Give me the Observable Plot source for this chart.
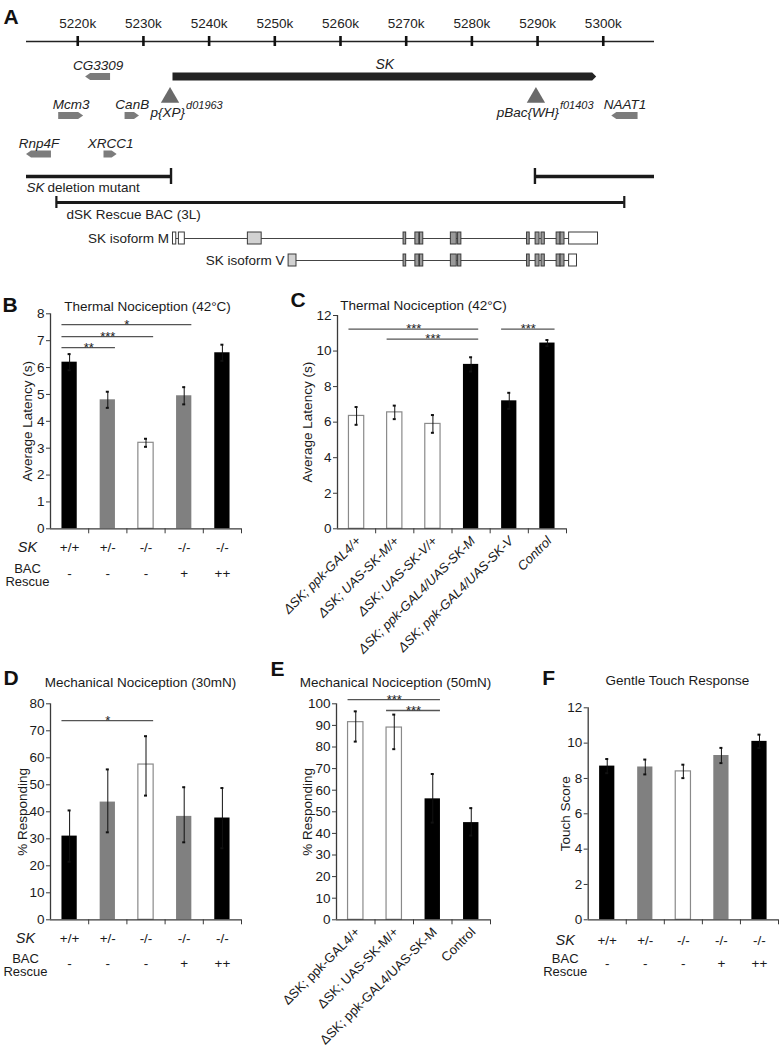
<!DOCTYPE html>
<html>
<head>
<meta charset="utf-8">
<script src="https://cdn.jsdelivr.net/npm/d3@7"></script>
<script src="https://cdn.jsdelivr.net/npm/@observablehq/plot@0.6"></script>
<style>
  body { margin: 0; background: #fff; }
  #fig { position: relative; width: 780px; height: 1050px; background: #fff; }
</style>
</head>
<body>
<div id="fig"></div>
<script>
// ================= DATA =================
// Panel A – genomic region (kb)
const regionKb = [5212.2, 5307.8];
const rulerTicks = [5220, 5230, 5240, 5250, 5260, 5270, 5280, 5290, 5300];
const skGene = {name: "SK", start: 5234.5, end: 5299.0, strand: "+"};
const geneNames  = ["CG3309", "Mcm3", "CanB", "Rnp4F", "XRCC1", "NAAT1"];
const geneStart  = [5221.2, 5217.1, 5227.2, 5212.2, 5224.0, 5301.3];
const geneEnd    = [5225.0, 5220.9, 5229.4, 5216.0, 5226.0, 5305.3];
const geneStrand = ["-", "+", "+", "-", "+", "-"];
const geneRow    = ["sk", "row2", "row2", "row3", "row3", "row2"];
const insertNames   = ["p{XP}", "pBac{WH}"];
const insertAlleles = ["d01963", "f01403"];
const insertKb      = [5234.05, 5289.75];
const deletionStart = [5212.2, 5289.6];
const deletionEnd   = [5234.2, 5307.8];
const bacStart = 5216.75, bacEnd = 5303.2;
const isoMStart = [5234.5, 5235.4, 5245.9, 5269.6, 5271.4, 5272.1, 5276.8, 5277.9, 5288.4, 5289.7, 5290.6, 5292.9, 5293.5, 5294.8];
const isoMEnd   = [5235.0, 5236.3, 5248.0, 5270.0, 5272.0, 5272.6, 5277.7, 5278.4, 5288.8, 5290.3, 5291.1, 5293.5, 5294.1, 5299.2];
const isoMType  = ["utr", "utr", "first", "cds", "cds", "cds", "cds", "cds", "cds", "cds", "cds", "cds", "cds", "utr"];
const isoVStart = [5252.1, 5269.6, 5271.4, 5272.1, 5276.8, 5277.9, 5288.4, 5289.7, 5290.6, 5292.9, 5293.5, 5294.8];
const isoVEnd   = [5253.3, 5270.0, 5272.0, 5272.6, 5277.7, 5278.4, 5288.8, 5290.3, 5291.1, 5293.5, 5294.1, 5296.0];
const isoVType  = ["first", "cds", "cds", "cds", "cds", "cds", "cds", "cds", "cds", "cds", "cds", "utr"];

// Panels B, D, F – genotype table
const skGenotype = ["+/+", "+/-", "-/-", "-/-", "-/-"];
const bacRescue  = ["-", "-", "-", "+", "++"];
const genoCats   = ["+/+ -", "+/- -", "-/- -", "-/- +", "-/- ++"];

// Panel B – thermal nociception (42°C), average latency (s)
const latencyB = [6.2, 4.8, 3.2, 4.95, 6.55];
const latencyBErr = [0.3, 0.3, 0.15, 0.32, 0.3];
const sigB = [{from: 0, to: 3, y: 7.6, stars: "*"}, {from: 0, to: 2, y: 7.15, stars: "***"}, {from: 0, to: 1, y: 6.74, stars: "**"}];

// Panel C – thermal nociception (42°C), rescue lines
const linesC = ["ΔSK; ppk-GAL4/+", "ΔSK; UAS-SK-M/+", "ΔSK; UAS-SK-V/+", "ΔSK; ppk-GAL4/UAS-SK-M", "ΔSK; ppk-GAL4/UAS-SK-V", "Control"];
const latencyC = [6.35, 6.55, 5.9, 9.25, 7.2, 10.45];
const latencyCErr = [0.5, 0.38, 0.5, 0.4, 0.45, 0.17];
const sigC = [{from: 0, to: 3, y: 11.23, stars: "***"}, {from: 1, to: 3, y: 10.67, stars: "***"}, {from: 4, to: 5, y: 11.23, stars: "***"}];

// Panel D – mechanical nociception (30mN), % responding
const respD   = [31, 43.6, 57.5, 38.3, 37.7];
const respDLo = [21.5, 32.4, 46, 28.7, 26.5];
const respDHi = [40.5, 55.7, 68, 49.1, 48.8];
const sigD = [{from: 0, to: 2, y: 73.8, stars: "*"}];

// Panel E – mechanical nociception (50mN), % responding
const linesE = ["ΔSK; ppk-GAL4/+", "ΔSK; UAS-SK-M/+", "ΔSK; ppk-GAL4/UAS-SK-M", "Control"];
const respE   = [91.5, 89, 56, 45];
const respELo = [82.5, 79, 45, 39];
const respEHi = [96.5, 95, 67.5, 51.7];
const sigE = [{from: 0, to: 2, y: 101.9, stars: "***"}, {from: 1, to: 2, y: 96.9, stars: "***"}];

// Panel F – gentle touch response, touch score
const touchF = [8.7, 8.65, 8.4, 9.3, 10.1];
const touchFErr = [0.4, 0.42, 0.38, 0.43, 0.38];

// ================= STYLE / LAYOUT =================
const FONT = "Arial, 'Liberation Sans', Helvetica, sans-serif";
const BLACK = "#000000", GRAY = "#808080", WHITE = "#ffffff";
const fig = document.getElementById("fig");

function place(svg, left, top) {
  svg.style.position = "absolute";
  svg.style.left = left + "px";
  svg.style.top = top + "px";
  svg.style.overflow = "visible";
  fig.appendChild(svg);
}

// ================= PANEL A =================
const lane = {tickLabel: 23, ruler: 41, sk: 76.5, insert: 97, insertLabel: 112, row2: 115.5, row3: 154, deletion: 176, deletionLabel: 187, bac: 202, bacLabel: 214, isoM: 238, isoV: 260};
const insertLabelDx = [15, 23];

const genes = geneNames.map((name, i) => ({name, start: geneStart[i], end: geneEnd[i], strand: geneStrand[i], row: geneRow[i]}));
const inserts = insertNames.map((name, i) => ({name, allele: insertAlleles[i], kb: insertKb[i]}));
const deletions = deletionStart.map((s, i) => ({start: s, end: deletionEnd[i]}));
const exonsM = isoMStart.map((s, i) => ({start: s, end: isoMEnd[i], type: isoMType[i], iso: "isoM"}));
const exonsV = isoVStart.map((s, i) => ({start: s, end: isoVEnd[i], type: isoVType[i], iso: "isoV"}));
const exons = exonsM.concat(exonsV);
const isoforms = [
  {iso: "isoM", label: "SK isoform M", start: d3.min(isoMStart), end: d3.max(isoMEnd)},
  {iso: "isoV", label: "SK isoform V", start: d3.min(isoVStart), end: d3.max(isoVEnd)}
];

function geneArrows(items, {height, head, fill}) {
  return (index, scales) => {
    const g = d3.create("svg:g");
    for (const d of items) {
      const xa = scales.x(d.start), xb = scales.x(d.end), yc = scales.y(lane[d.row]);
      const h = height / 2;
      const path = d.strand === "+"
        ? `M${xa},${yc - h}H${xb - head}L${xb},${yc}L${xb - head},${yc + h}H${xa}Z`
        : `M${xb},${yc - h}H${xa + head}L${xa},${yc}L${xa + head},${yc + h}H${xb}Z`;
      g.append("path").attr("d", path).attr("fill", fill);
    }
    return g.node();
  };
}

const exonFill = {utr: "#ffffff", first: "#d2d2d2", cds: "#9a9a9a"};

const marksA = [
  Plot.ruleY([lane.ruler], {stroke: "#222", strokeWidth: 1.6}),
  Plot.ruleX(rulerTicks, {x: d => d, y1: () => lane.ruler - 5, y2: () => lane.ruler + 5, stroke: "#111", strokeWidth: 2.6}),
  Plot.text(rulerTicks, {x: d => d, y: () => lane.tickLabel, text: d => `${d}k`, fontSize: 13.5, fill: "#222"}),
  geneArrows([{...skGene, row: "sk"}], {height: 8, head: 4, fill: "#232323"}),
  Plot.text([skGene], {x: d => (d.start + d.end) / 2, y: () => lane.sk, dy: -12, text: "name", fontStyle: "italic", fontSize: 14, fill: "#222"}),
  geneArrows(genes, {height: 7, head: 5, fill: "#7c7c7c"}),
  Plot.text(genes, {x: d => (d.start + d.end) / 2, y: d => lane[d.row], dy: -11, text: "name", fontStyle: "italic", fontSize: 13.5, fill: "#222"}),
  Plot.dot(inserts, {x: "kb", y: () => lane.insert, symbol: "triangle", r: 6.8, fill: "#6a6a6a", stroke: "none"}),
  Plot.ruleY(deletions, {x1: "start", x2: "end", y: () => lane.deletion, stroke: "#1a1a1a", strokeWidth: 3.5}),
  Plot.ruleX([deletionEnd[0], deletionStart[1]], {x: d => d, y1: () => lane.deletion - 8, y2: () => lane.deletion + 8, stroke: "#1a1a1a", strokeWidth: 2.4}),
  Plot.text(["SK"], {x: () => deletionStart[0], y: () => lane.deletionLabel, text: d => d, textAnchor: "start", fontStyle: "italic", fontSize: 13.5, fill: "#222"}),
  Plot.text(["deletion mutant"], {x: () => deletionStart[0], y: () => lane.deletionLabel, dx: 21, text: d => d, textAnchor: "start", fontSize: 13.5, fill: "#222"}),
  Plot.ruleY([{start: bacStart, end: bacEnd}], {x1: "start", x2: "end", y: () => lane.bac, stroke: "#1a1a1a", strokeWidth: 3}),
  Plot.ruleX([bacStart, bacEnd], {x: d => d, y1: () => lane.bac - 6, y2: () => lane.bac + 6, stroke: "#1a1a1a", strokeWidth: 2.2}),
  Plot.text(["dSK Rescue BAC (3L)"], {x: () => bacStart, y: () => lane.bacLabel, dx: 10, text: d => d, textAnchor: "start", fontSize: 13.5, fill: "#222"}),
  Plot.ruleY(isoforms, {x1: "start", x2: "end", y: d => lane[d.iso], stroke: "#444", strokeWidth: 1.2}),
  Plot.text(isoforms, {x: "start", y: d => lane[d.iso], dx: -4, text: "label", textAnchor: "end", fontSize: 13.5, fill: "#222"}),
  ...["utr", "first", "cds"].map(t =>
    Plot.rect(exons.filter(e => e.type === t), {x1: "start", x2: "end", y1: d => lane[d.iso] - 6, y2: d => lane[d.iso] + 6, fill: exonFill[t], stroke: "#3a3a3a", strokeWidth: 1})
  )
];
inserts.forEach((ins, k) => {
  marksA.push(Plot.text([ins], {x: "kb", y: () => lane.insertLabel, dx: insertLabelDx[k], text: "name", textAnchor: "end", fontStyle: "italic", fontSize: 13.5, fill: "#222"}));
  marksA.push(Plot.text([ins], {x: "kb", y: () => lane.insertLabel, dx: insertLabelDx[k] + 1, dy: -7, text: "allele", textAnchor: "start", fontStyle: "italic", fontSize: 11, fill: "#222"}));
});
marksA.push(Plot.text(["A"], {frameAnchor: "top-left", dx: -23, dy: 17, text: d => d, textAnchor: "start", lineAnchor: "middle", fontWeight: "bold", fontSize: 21, fill: "#111"}));

const plotA = Plot.plot({
  width: 780, height: 280,
  marginLeft: 26, marginRight: 126, marginTop: 0, marginBottom: 0,
  x: {domain: regionKb, axis: null},
  y: {domain: [0, 280], range: [0, 280], axis: null},
  style: {fontFamily: FONT, fontSize: "13px", background: "transparent"},
  marks: marksA
});
place(plotA, 0, 0);

// ================= BAR PANELS =================
function barPanel(p) {
  const [L, T, R, Bm] = p.frame;   // frame edges in page pixels
  const [sx, sy, sw, sh] = p.box;   // svg box in page pixels
  const n = p.cats.length, step = (R - L) / n, bw = step * 0.4;
  const unit = (Bm - T) / p.ymax;
  const rows = p.cats.map((c, i) => ({c, i, v: p.values[i], lo: p.lo[i], hi: p.hi[i]}));
  const whiteCats = p.cats.filter((c, i) => p.colors[i] === WHITE);
  const capInset = bw / 2 - 1.5;
  const marks = [
    Plot.barY(rows, {x: "c", y: "v", fill: "c"}),
    Plot.barY(rows.filter(d => whiteCats.includes(d.c)), {x: "c", y: "v", fill: "none", stroke: "#8a8a8a", strokeWidth: 1.2}),
    Plot.ruleX(rows, {x: "c", y1: "lo", y2: "hi", stroke: "#111", strokeWidth: 1}),
    Plot.tickY(rows, {x: "c", y: "hi", insetLeft: capInset, insetRight: capInset, stroke: "#111", strokeWidth: 2}),
    Plot.tickY(rows, {x: "c", y: "lo", insetLeft: capInset, insetRight: capInset, stroke: "#111", strokeWidth: 2}),
    Plot.ruleY([0], {stroke: "#3a3a3a", strokeWidth: 1.3}),
    Plot.ruleX([p.cats[0]], {x: d => d, y1: () => 0, y2: () => p.ymax, dx: -step / 2, stroke: "#3a3a3a", strokeWidth: 1.3}),
    Plot.ruleX(p.cats, {x: d => d, y1: () => 0, y2: () => -5 / unit, dx: step / 2, stroke: "#3a3a3a", strokeWidth: 1}),
    Plot.axisY({ticks: p.yticks, tickSize: 4, tickPadding: 2, label: null, stroke: "#3a3a3a", fill: "#1a1a1a", fontSize: 13.5}),
    Plot.text([p.title], {frameAnchor: "top", dx: p.titleDx, dy: p.titleDy, text: d => d, textAnchor: "middle", lineAnchor: "middle", fontSize: 13.5, fill: "#1a1a1a"}),
    Plot.text([p.letter], {frameAnchor: "top-left", dx: p.letterDx, dy: p.letterDy, text: d => d, textAnchor: "start", lineAnchor: "middle", fontWeight: "bold", fontSize: 21, fill: "#111"}),
    Plot.text([p.ylabel], {frameAnchor: "left", dx: p.ylabelDx, rotate: -90, text: d => d, textAnchor: "middle", lineAnchor: "middle", fontSize: 13.5, fill: "#1a1a1a"})
  ];
  for (const s of p.sig) {
    marks.push(Plot.ruleY([s], {x1: () => p.cats[s.from], x2: () => p.cats[s.to], y: "y", stroke: "#555", strokeWidth: 1.3}));
    marks.push(Plot.text([s], {x: () => p.cats[s.from], y: "y", dx: (s.to - s.from) * step / 2, text: "stars", fontSize: 13, fill: "#222"}));
  }
  if (p.table) {
    marks.push(Plot.text(rows, {x: "c", text: d => skGenotype[d.i], frameAnchor: "bottom", lineAnchor: "middle", dy: p.table.dy1, fontSize: 13.5, fill: "#1a1a1a"}));
    marks.push(Plot.text(rows, {x: "c", text: d => bacRescue[d.i], frameAnchor: "bottom", lineAnchor: "middle", dy: p.table.dy2, fontSize: 13.5, fill: "#1a1a1a"}));
    marks.push(Plot.text(["SK"], {frameAnchor: "bottom-left", dx: p.table.dx, dy: p.table.dy1, text: d => d, textAnchor: "middle", lineAnchor: "middle", fontStyle: "italic", fontSize: 14.5, fill: "#1a1a1a"}));
    marks.push(Plot.text(["BAC\nRescue"], {frameAnchor: "bottom-left", dx: p.table.dx, dy: p.table.dy2 + 2, text: d => d, textAnchor: "middle", lineAnchor: "middle", lineHeight: 1.0, fontSize: 13, fill: "#1a1a1a"}));
  }
  if (p.rotLabels) {
    marks.push(Plot.text(rows, {x: "c", text: d => p.rotLabels[d.i], frameAnchor: "bottom", rotate: -45, textAnchor: "end", lineAnchor: "middle", dx: 2, dy: 10, fontStyle: p.italic ? "italic" : "normal", fontSize: 13, fill: "#1a1a1a"}));
  }
  const svg = Plot.plot({
    width: sw, height: sh,
    marginLeft: L - sx, marginRight: sx + sw - R, marginTop: T - sy, marginBottom: sy + sh - Bm,
    x: {domain: p.cats, paddingInner: 0.6, paddingOuter: 0.3, round: false, axis: null},
    y: {domain: [0, p.ymax]},
    color: {domain: p.cats, range: p.colors},
    style: {fontFamily: FONT, fontSize: "13px", background: "transparent"},
    marks
  });
  place(svg, sx, sy);
}

// B
barPanel({
  cats: genoCats, values: latencyB,
  lo: latencyB.map((v, i) => v - latencyBErr[i]), hi: latencyB.map((v, i) => v + latencyBErr[i]),
  colors: [BLACK, GRAY, WHITE, GRAY, BLACK],
  ymax: 8, yticks: d3.range(0, 9, 1),
  frame: [50, 313.3, 241, 528.3], box: [0, 282, 252, 318],
  title: "Thermal Nociception (42°C)", titleDx: 1.5, titleDy: -7.5,
  letter: "B", letterDx: -48, letterDy: -9,
  ylabel: "Average Latency (s)", ylabelDx: -23,
  sig: sigB, table: {dy1: 19, dy2: 44.5, dx: -23}
});

// C
barPanel({
  cats: linesC, values: latencyC,
  lo: latencyC.map((v, i) => v - latencyCErr[i]), hi: latencyC.map((v, i) => v + latencyCErr[i]),
  colors: [WHITE, WHITE, WHITE, BLACK, BLACK, BLACK],
  ymax: 12, yticks: d3.range(0, 13, 2),
  frame: [337, 315, 566, 528.3], box: [255, 282, 320, 375],
  title: "Thermal Nociception (42°C)", titleDx: -28.5, titleDy: -10,
  letter: "C", letterDx: -47, letterDy: -15,
  ylabel: "Average Latency (s)", ylabelDx: -30,
  sig: sigC, rotLabels: linesC, italic: true
});

// D
barPanel({
  cats: genoCats, values: respD, lo: respDLo, hi: respDHi,
  colors: [BLACK, GRAY, WHITE, GRAY, BLACK],
  ymax: 80, yticks: d3.range(0, 81, 10),
  frame: [50, 703.3, 241, 919.3], box: [0, 650, 252, 340],
  title: "Mechanical Nociception (30mN)", titleDx: -5.5, titleDy: -21,
  letter: "D", letterDx: -47, letterDy: -26,
  ylabel: "% Responding", ylabelDx: -28,
  sig: sigD, table: {dy1: 18.7, dy2: 44, dx: -25}
});

// E
barPanel({
  cats: linesE, values: respE, lo: respELo, hi: respEHi,
  colors: [WHITE, WHITE, BLACK, BLACK],
  ymax: 100, yticks: d3.range(0, 101, 10),
  frame: [336, 703.3, 490, 919.3], box: [255, 650, 262, 400],
  title: "Mechanical Nociception (50mN)", titleDx: -18, titleDy: -21,
  letter: "E", letterDx: -66, letterDy: -35,
  ylabel: "% Responding", ylabelDx: -29,
  sig: sigE, rotLabels: linesE, italic: false
});

// F
barPanel({
  cats: genoCats, values: touchF,
  lo: touchF.map((v, i) => v - touchFErr[i]), hi: touchF.map((v, i) => v + touchFErr[i]),
  colors: [BLACK, GRAY, WHITE, GRAY, BLACK],
  ymax: 12, yticks: d3.range(0, 13, 2),
  frame: [587.7, 707.3, 778, 919.3], box: [520, 650, 260, 340],
  title: "Gentle Touch Response", titleDx: -6, titleDy: -27,
  letter: "F", letterDx: -46, letterDy: -30,
  ylabel: "Touch Score", ylabelDx: -23,
  sig: [], table: {dy1: 20.7, dy2: 44, dx: -23}
});
</script>
</body>
</html>
